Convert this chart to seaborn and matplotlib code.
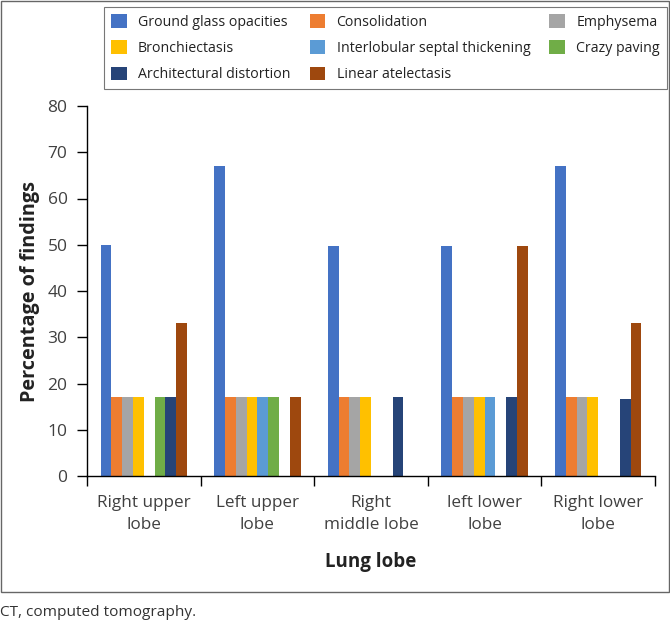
import pandas as pd
import matplotlib.pyplot as plt
import matplotlib.patches as mpatches
import seaborn as sns

# datos
lobulos = ["Right upper\nlobe", "Left upper\nlobe", "Right\nmiddle lobe", "left lower\nlobe", "Right lower\nlobe"]
hallazgos = ["Ground glass opacities", "Consolidation", "Emphysema", "Bronchiectasis",
             "Interlobular septal thickening", "Crazy paving", "Architectural distortion",
             "Linear atelectasis"]
ggo = [50, 67, 49.7, 49.7, 67]
consolidacion = [17, 17, 17, 17, 17]
enfisema = [17, 17, 17, 17, 17]
bronquiectasia = [17, 17, 17, 17, 17]
septal = [0, 17, 0, 17, 0]
crazy_paving = [17, 17, 0, 0, 0]
distorsion = [17, 0, 17, 17, 16.7]
atelectasia = [33, 17, 0, 49.7, 33]

colores = ["#4472C4", "#ED7D31", "#A5A5A5", "#FFC000", "#5B9BD5", "#70AD47", "#264478", "#9E480E"]

series = [ggo, consolidacion, enfisema, bronquiectasia, septal, crazy_paving, distorsion, atelectasia]
filas = []
for nombre, valores in zip(hallazgos, series):
    for lob, v in zip(lobulos, valores):
        filas.append({"lobe": lob, "finding": nombre, "pct": v})
df = pd.DataFrame(filas)

sns.set_style("white")
plt.rcParams["font.family"] = ["Open Sans", "DejaVu Sans"]

fig = plt.figure(figsize=(6.7, 6.21), dpi=100)
ax = fig.add_axes([87 / 670, 1 - 476 / 621, (655 - 87) / 670, (476 - 106) / 621])

sns.barplot(data=df, x="lobe", y="pct", hue="finding", order=lobulos, hue_order=hallazgos,
            palette=colores, width=0.76, linewidth=0, saturation=1, ax=ax)

ax.set_ylim(0, 80)
ax.set_xlim(-0.5, 4.5)
ax.set_yticks(range(0, 81, 10))
ax.tick_params(axis="y", labelsize=12.5, direction="out", length=7, width=1, color="black",
               labelcolor="#404040", left=True, pad=7)
ax.set_xticks(range(len(lobulos)), lobulos, linespacing=1.5)
ax.set_xticks([i - 0.5 for i in range(6)], minor=True)
ax.tick_params(axis="x", which="minor", direction="out", length=7, width=1, color="black", bottom=True)
ax.tick_params(axis="x", which="major", length=0, labelsize=12.3, labelcolor="#404040", pad=14)
for s in ["top", "right"]:
    ax.spines[s].set_visible(False)
for s in ["left", "bottom"]:
    ax.spines[s].set_color("black")
    ax.spines[s].set_linewidth(1)

ax.set_xlabel("Lung lobe", fontsize=13.5, fontweight="bold", color="#222222")
ax.set_ylabel("Percentage of findings", fontsize=14.3, fontweight="bold", color="#222222")
ax.xaxis.set_label_coords(0.5, (476 - 552) / 370)
ax.yaxis.set_label_coords((40 - 87) / 568, 0.5)

handles, labels = ax.get_legend_handles_labels()
ax.get_legend().remove()
orden = [0, 3, 6, 1, 4, 7, 2, 5]
leg = fig.legend([handles[i] for i in orden], [labels[i] for i in orden], ncol=3,
                 loc="upper left", bbox_to_anchor=(104 / 670, 1 - 7 / 621), borderaxespad=0,
                 fontsize=10.2, frameon=True, fancybox=False, edgecolor="#555555",
                 handlelength=1.1, handleheight=1.1, handletextpad=0.8, columnspacing=1.35,
                 labelspacing=0.75, borderpad=0.5)
leg.get_frame().set_linewidth(0.8)
for t in leg.get_texts():
    t.set_color("#222222")

# marco exterior y pie de figura
marco = mpatches.Rectangle((0.5 / 670, 1 - 592 / 621), 668 / 670, 591 / 621,
                           transform=fig.transFigure, fill=False, edgecolor="#666666", linewidth=1)
fig.patches.append(marco)
fig.text(0.0, 1 - 612 / 621, "CT, computed tomography.", fontsize=11.1, color="#333333", va="center")

fig.savefig("out.png", dpi=100)
